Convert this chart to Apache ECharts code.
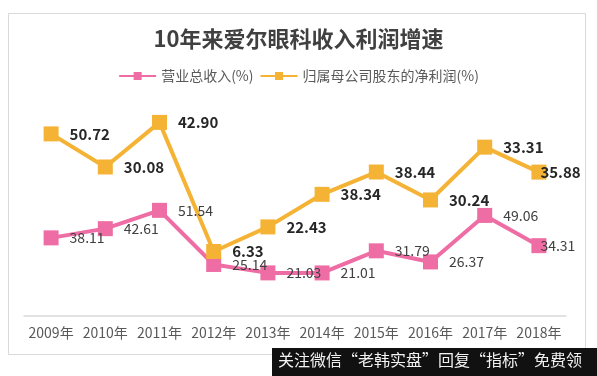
<!DOCTYPE html>
<html>
<head>
<meta charset="utf-8">
<script src="https://cdn.jsdelivr.net/npm/echarts@6/dist/echarts.min.js"></script>
<style>
  html, body { margin: 0; padding: 0; background: #fff; }
  #main { width: 597px; height: 376px; }
</style>
</head>
<body>
<div id="main"></div>
<script>
// 年份、营业总收入增速、归母净利润增速（原图为堆积折线）
var years = ['2009年', '2010年', '2011年', '2012年', '2013年', '2014年', '2015年', '2016年', '2017年', '2018年'];
var revenue = [38.11, 42.61, 51.54, 25.14, 21.03, 21.01, 31.79, 26.37, 49.06, 34.31];
var profit = [50.72, 30.08, 42.90, 6.33, 22.43, 38.34, 38.44, 30.24, 33.31, 35.88];

var font = '"Noto Sans CJK SC", "Microsoft YaHei", sans-serif';
var myChart = echarts.init(document.getElementById('main'));

function fmt(p) {
    return p.value.toFixed(2);
}

// 最后一个点的标签贴着方块（原图如此）
function withLastLabel(arr) {
    return arr.map(function (v, i) {
        if (i === arr.length - 1) {
            return { value: v, label: { distance: -6 } };
        }
        return v;
    });
}

myChart.setOption({
    backgroundColor: '#fff',
    textStyle: { fontFamily: font },
    title: {
        text: '10年来爱尔眼科收入利润增速',
        left: 'center',
        top: 23,
        textStyle: { fontSize: 22, fontWeight: 'bold', color: '#404040', fontFamily: font }
    },
    legend: {
        top: 64,
        left: 'center',
        itemWidth: 37,
        itemHeight: 10,
        itemGap: 6,
        textStyle: { fontSize: 14, color: '#595959', fontFamily: font },
        data: ['营业总收入(%)', '归属母公司股东的净利润(%)']
    },
    grid: { left: 24, right: 31, top: 111, bottom: 60 },
    xAxis: {
        type: 'category',
        data: years,
        axisTick: { show: false },
        axisLine: { lineStyle: { color: '#d9d9d9', width: 1.5 } },
        axisLabel: { color: '#595959', fontSize: 14, margin: 10, interval: 0, hideOverlap: false, fontFamily: font }
    },
    yAxis: {
        type: 'value',
        min: 0,
        max: 100,
        show: false,
        splitLine: { show: false }
    },
    graphic: [{
        type: 'rect',
        shape: { x: 8.5, y: 13.5, width: 577, height: 341 },
        style: { fill: 'none', stroke: '#d9d9d9', lineWidth: 1 },
        z: -1
    }, {
        type: 'rect',
        shape: { x: 272, y: 348, width: 325, height: 28 },
        style: { fill: '#111' },
        z: 100
    }, {
        type: 'text',
        left: 278,
        top: 352,
        style: { text: '关注微信“老韩实盘”回复“指标”免费领', fill: '#f2f2f2', fontSize: 16, fontFamily: font },
        z: 101
    }],
    series: [{
        name: '营业总收入(%)',
        type: 'line',
        stack: 'total',
        data: withLastLabel(revenue),
        symbol: 'rect',
        symbolSize: 15,
        color: '#EF6DA5',
        lineStyle: { width: 4, color: '#EF6DA5' },
        itemStyle: { color: '#EF6DA5' },
        label: {
            show: true,
            position: 'right',
            distance: 11,
            fontSize: 14,
            color: '#404040',
            fontFamily: font,
            formatter: fmt
        }
    }, {
        name: '归属母公司股东的净利润(%)',
        type: 'line',
        stack: 'total',
        data: withLastLabel(profit),
        symbol: 'rect',
        symbolSize: 15,
        color: '#F5B335',
        lineStyle: { width: 4, color: '#F5B335' },
        itemStyle: { color: '#F5B335' },
        label: {
            show: true,
            position: 'right',
            distance: 11,
            fontSize: 15,
            fontWeight: 'bold',
            color: '#262626',
            fontFamily: font,
            formatter: fmt
        }
    }]
});
</script>
</body>
</html>
